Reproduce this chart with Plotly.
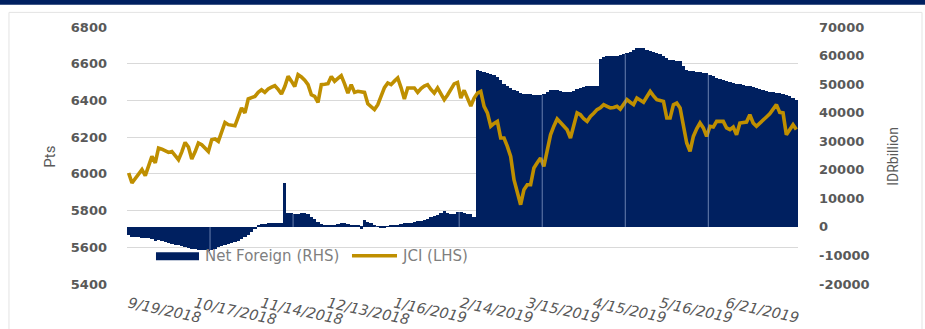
import plotly.graph_objects as go

# ---------------- data ----------------
tick_labels = ["9/19/2018", "10/17/2018", "11/14/2018", "12/13/2018", "1/16/2019",
               "2/14/2019", "3/15/2019", "4/15/2019", "5/16/2019", "6/21/2019"]
tick_step = 20

jci = [6005, 5950, 5975, 6000, 6023, 5990, 6040, 6095, 6060, 6141,
       6135, 6125, 6117, 6122, 6100, 6077, 6120, 6171, 6146, 6081,
       6120, 6168, 6159, 6140, 6122, 6186, 6190, 6177, 6230, 6280,
       6268, 6265, 6262, 6310, 6359, 6332, 6408, 6415, 6422, 6444,
       6458, 6444, 6462, 6472, 6480, 6460, 6435, 6476, 6531, 6505,
       6476, 6540, 6528, 6510, 6486, 6431, 6422, 6389, 6486, 6488,
       6491, 6531, 6504, 6520, 6535, 6490, 6440, 6486, 6444, 6450,
       6448, 6444, 6382, 6365, 6350, 6377, 6430, 6470, 6495, 6486,
       6505, 6522, 6470, 6408, 6468, 6468, 6468, 6444, 6465, 6478,
       6486, 6460, 6440, 6468, 6435, 6404, 6430, 6465, 6490, 6498,
       6413, 6455, 6410, 6370, 6413, 6440, 6449, 6368, 6332, 6259,
       6275, 6286, 6195, 6195, 6150, 6095, 5968, 5900, 5832, 5914,
       5941, 5941, 6032, 6060, 6086, 6041, 6130, 6213, 6260, 6299,
       6280, 6259, 6240, 6195, 6265, 6332, 6322, 6300, 6286, 6313,
       6330, 6350, 6360, 6377, 6368, 6359, 6362, 6368, 6353, 6380,
       6404, 6390, 6377, 6413, 6400, 6390, 6420, 6449, 6425, 6404,
       6400, 6395, 6304, 6304, 6377, 6386, 6359, 6268, 6168, 6122,
       6204, 6245, 6277, 6250, 6204, 6259, 6255, 6286, 6288, 6286,
       6250, 6241, 6255, 6213, 6277, 6280, 6282, 6322, 6277, 6259,
       6278, 6295, 6310, 6327, 6350, 6377, 6335, 6332, 6213, 6241,
       6268, 6241]

net_foreign = [-2900, -3700, -3700, -3700, -3900, -3900, -3900, -4300, -5000, -4600,
               -5000, -5200, -5500, -5900, -6200, -6500, -6700, -7000, -7400, -7700,
               -7900, -8000, -8100, -8200, -8300, -8000, -7600, -7100, -6700, -6400,
               -6100, -5700, -5300, -4800, -4300, -3700, -3000, -1800, -800, 600,
               1000, 1100, 1200, 1200, 1200, 1200, 1300, 15300, 4800, 4700,
               4500, 4600, 4800, 4900, 4600, 3500, 2700, 1800, 1100, 800,
               400, 350, 800, 1100, 1200, 1200, 1000, 700, 600, 500,
               -600, 2400, 1800, 1500, 600, 300, -200, -100, 300, 500,
               600, 700, 1000, 1200, 1400, 1500, 1600, 1900, 2100, 2300,
               2700, 3300, 3900, 4300, 5000, 5600, 5000, 4500, 4400, 5200,
               5300, 5000, 4500, 4400, 3300, 54800, 54600, 54300, 53900, 53600,
               53200, 52400, 51300, 50200, 49200, 48700, 48100, 47600, 47000, 46600,
               46400, 46400, 46200, 46100, 46100, 46600, 47300, 47800, 48100, 48000,
               47500, 47300, 47300, 47400, 47600, 48200, 48800, 49000, 49200, 49300,
               49400, 49500, 58800, 59500, 59800, 60000, 60000, 60000, 60100, 60500,
               60800, 61400, 62000, 62500, 62700, 62500, 62000, 61500, 61200, 60800,
               60500, 60000, 59200, 58600, 58400, 58200, 58000, 56500, 55000, 54500,
               54500, 54300, 54200, 54000, 53800, 53300, 52800, 52200, 51800, 51400,
               51000, 50700, 50400, 50200, 49900, 49700, 49500, 49300, 49100, 48700,
               48300, 47900, 47600, 47400, 47200, 47000, 46800, 46600, 46300, 45800,
               45200, 44600]

left_ticks = [5400, 5600, 5800, 6000, 6200, 6400, 6600, 6800]
right_ticks = [-20000, -10000, 0, 10000, 20000, 30000, 40000, 50000, 60000, 70000]
series_names = ["Net Foreign (RHS)", "JCI (LHS)"]

# ---------------- style ----------------
NAVY = "#002060"
GOLD = "#BF8F00"
GREY_TXT = "#595959"
GRID = "#d9d9d9"
TICK_FONT = dict(family="DejaVu Sans", size=13, color=GREY_TXT, weight="bold")

n = len(jci)
idx = list(range(n))

fig = go.Figure()
fig.add_trace(go.Bar(x=idx, y=net_foreign, name=series_names[0], yaxis="y",
                     marker=dict(color=NAVY, line=dict(width=0)), showlegend=False))
fig.add_trace(go.Scatter(x=idx, y=jci, name=series_names[1], yaxis="y2", mode="lines",
                         line=dict(color=GOLD, width=3.6), showlegend=False))

# faint separators inside the column block, every 25 bars (as in the source)
group = 25
shapes = []
for k in range(group, n - group + 1, group):
    top = min(net_foreign[k - 1], net_foreign[k], key=abs)
    shapes.append(dict(type="line", xref="x", yref="y", x0=k - 0.5, x1=k - 0.5,
                       y0=0, y1=top, layer="above",
                       line=dict(color="rgba(140,160,200,0.75)", width=1)))

# page decorations: top navy band, light frame
shapes.append(dict(type="rect", xref="paper", yref="paper", x0=-0.25, x1=1.25,
                   y0=1.0868, y1=1.12, fillcolor=NAVY, line=dict(width=0), layer="below"))
shapes.append(dict(type="rect", xref="paper", yref="paper", x0=-0.1759, x1=1.1848,
                   y0=-0.25, y1=1.0568, fillcolor="rgba(0,0,0,0)",
                   line=dict(color="#e3e3e3", width=1), layer="below"))
# manual legend swatches
shapes.append(dict(type="rect", xref="paper", yref="paper", x0=0.0432, x1=0.1073,
                   y0=0.0926, y1=0.1237, fillcolor=NAVY, line=dict(width=0), layer="below"))
shapes.append(dict(type="line", xref="paper", yref="paper", x0=0.3353, x1=0.4024,
                   y0=0.1101, y1=0.1101, line=dict(color=GOLD, width=3.5), layer="below"))

LEG_FONT = dict(family="DejaVu Sans", size=15, color="#7f7f7f")
TITLE_FONT = dict(family="Liberation Sans Narrow, Roboto, sans-serif", size=14, color=GREY_TXT)
annotations = [
    dict(xref="paper", yref="paper", x=0.1133, y=0.1082, xanchor="left", yanchor="middle",
         text=series_names[0], showarrow=False, font=LEG_FONT),
    dict(xref="paper", yref="paper", x=0.4069, y=0.1082, xanchor="left", yanchor="middle",
         text=series_names[1], showarrow=False, font=LEG_FONT),
    dict(xref="paper", yref="paper", x=-0.1148, y=0.495, xanchor="center", yanchor="middle",
         text="Pts", textangle=-90, showarrow=False,
         font=dict(TITLE_FONT, size=15)),
    dict(xref="paper", yref="paper", x=1.1416, y=0.495, xanchor="center", yanchor="middle",
         text="IDRbillion", textangle=-90, showarrow=False, font=TITLE_FONT),
]

fig.update_layout(
    width=925, height=329,
    margin=dict(l=127, r=127, t=27, b=45, autoexpand=False),
    paper_bgcolor="white", plot_bgcolor="white",
    bargap=0,
    separators=".,",
    shapes=shapes,
    annotations=annotations,
    xaxis=dict(range=[-0.5, n - 0.5], tickmode="array",
               tickvals=[i * tick_step for i in range(len(tick_labels))],
               ticktext=tick_labels, tickangle=12, showgrid=False, zeroline=False,
               showline=False, ticks="", ticklabelstandoff=8,
               tickfont=dict(family="DejaVu Sans", size=14.5, color=GREY_TXT, style="italic")),
    yaxis=dict(side="right", range=[right_ticks[0], right_ticks[-1]], tickmode="array",
               tickvals=right_ticks, ticktext=[str(v) for v in right_ticks],
               showgrid=False, zeroline=False, showline=False,
               ticks="", ticklabelstandoff=20, tickfont=TICK_FONT),
    yaxis2=dict(side="left", overlaying="y", range=[left_ticks[0], left_ticks[-1]],
                tickmode="array", tickvals=left_ticks, ticktext=[str(v) for v in left_ticks],
                showgrid=True, gridcolor=GRID,
                gridwidth=1, zeroline=False, showline=False, ticks="",
                ticklabelstandoff=19, tickfont=TICK_FONT),
)

fig.write_html("out.html")
